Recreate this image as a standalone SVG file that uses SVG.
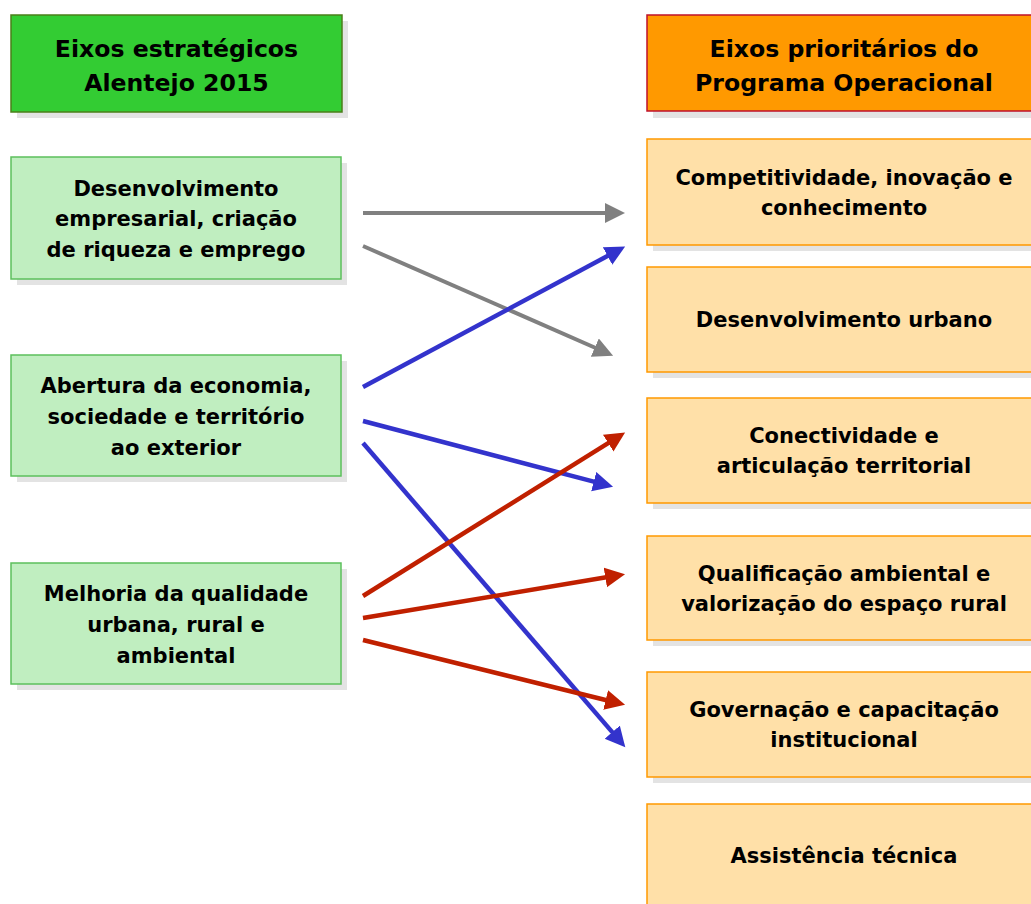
<svg xmlns="http://www.w3.org/2000/svg" width="1031" height="904" viewBox="0 0 1031 904">
<style>
text{font-family:"DejaVu Sans","Liberation Sans",sans-serif;font-weight:bold;fill:#000;text-anchor:middle}
.h{font-size:23.6px}
.t{font-size:21px}
.sh{fill:#E3E3E3}
.hl{fill:#33CC33;stroke:#4B7F1A;stroke-width:1.5}
.hr{fill:#FF9900;stroke:#C0102A;stroke-width:1.5}
.bl{fill:#C0EEC0;stroke:#5CC05C;stroke-width:1.5}
.br{fill:#FFE0A8;stroke:#FF9900;stroke-width:1.5}
.cg{stroke:#808080;stroke-width:4;fill:none}
.cb{stroke:#3333CC;stroke-width:4.5;fill:none}
.cr{stroke:#C02000;stroke-width:4.5;fill:none}
</style>
<defs>
<marker id="ag" markerUnits="userSpaceOnUse" markerWidth="22" markerHeight="22" refX="1" refY="10" orient="auto"><path d="M0,0 L20,10 L0,20 z" fill="#808080"/></marker>
<marker id="ab" markerUnits="userSpaceOnUse" markerWidth="22" markerHeight="22" refX="1" refY="10" orient="auto"><path d="M0,0 L20,10 L0,20 z" fill="#3333CC"/></marker>
<marker id="ar" markerUnits="userSpaceOnUse" markerWidth="22" markerHeight="22" refX="1" refY="10" orient="auto"><path d="M0,0 L20,10 L0,20 z" fill="#C02000"/></marker>
</defs>
<rect width="1031" height="904" fill="#fff"/>
<g id="hdr-left"><rect class="sh" x="17" y="21" width="331" height="97"/><rect class="hl" x="11" y="15" width="331" height="97"/>
<text class="h" x="176.5" y="57">Eixos estratégicos</text><text class="h" x="176.5" y="91">Alentejo 2015</text></g>
<g id="hdr-right"><rect class="sh" x="653" y="21" width="394" height="97"/><rect class="hr" x="647" y="15" width="394" height="96"/>
<text class="h" x="844" y="57">Eixos prioritários do</text><text class="h" x="844" y="91">Programa Operacional</text></g>
<g id="l1"><rect class="sh" x="17" y="163" width="330" height="122"/><rect class="bl" x="11" y="157" width="330" height="122"/>
<text class="t" x="176" y="196">Desenvolvimento</text><text class="t" x="176" y="226">empresarial, criação</text><text class="t" x="176" y="257">de riqueza e emprego</text></g>
<g id="l2"><rect class="sh" x="17" y="361" width="330" height="121"/><rect class="bl" x="11" y="355" width="330" height="121"/>
<text class="t" x="176" y="393">Abertura da economia,</text><text class="t" x="176" y="424">sociedade e território</text><text class="t" x="176" y="455">ao exterior</text></g>
<g id="l3"><rect class="sh" x="17" y="569" width="330" height="121"/><rect class="bl" x="11" y="563" width="330" height="121"/>
<text class="t" x="176" y="601">Melhoria da qualidade</text><text class="t" x="176" y="632">urbana, rural e</text><text class="t" x="176" y="663">ambiental</text></g>
<g id="r1"><rect class="sh" x="653" y="145" width="394" height="106"/><rect class="br" x="647" y="139" width="394" height="106"/>
<text class="t" x="844" y="185">Competitividade, inovação e</text><text class="t" x="844" y="215">conhecimento</text></g>
<g id="r2"><rect class="sh" x="653" y="273" width="394" height="105"/><rect class="br" x="647" y="267" width="394" height="105"/>
<text class="t" x="844" y="327">Desenvolvimento urbano</text></g>
<g id="r3"><rect class="sh" x="653" y="404" width="394" height="105"/><rect class="br" x="647" y="398" width="394" height="105"/>
<text class="t" x="844" y="443">Conectividade e</text><text class="t" x="844" y="473">articulação territorial</text></g>
<g id="r4"><rect class="sh" x="653" y="542" width="394" height="104"/><rect class="br" x="647" y="536" width="394" height="104"/>
<text class="t" x="844" y="581">Qualificação ambiental e</text><text class="t" x="844" y="611">valorização do espaço rural</text></g>
<g id="r5"><rect class="sh" x="653" y="678" width="394" height="105"/><rect class="br" x="647" y="672" width="394" height="105"/>
<text class="t" x="844" y="717">Governação e capacitação</text><text class="t" x="844" y="747">institucional</text></g>
<g id="r6"><rect class="sh" x="653" y="810" width="394" height="110"/><rect class="br" x="647" y="804" width="394" height="110"/>
<text class="t" x="844" y="863">Assistência técnica</text></g>
<g id="connectors">
<line class="cg" x1="363" y1="213" x2="606" y2="213" marker-end="url(#ag)"/>
<line class="cg" x1="363" y1="246" x2="595.7" y2="348" marker-end="url(#ag)"/>
<line class="cb" x1="363" y1="387" x2="608.4" y2="255.5" marker-end="url(#ab)"/>
<line class="cb" x1="363" y1="421" x2="594.7" y2="481.9" marker-end="url(#ab)"/>
<line class="cb" x1="363" y1="443" x2="612.9" y2="732.9" marker-end="url(#ab)"/>
<line class="cr" x1="363" y1="596" x2="609" y2="442.6" marker-end="url(#ar)"/>
<line class="cr" x1="363" y1="618" x2="606.3" y2="577.3" marker-end="url(#ar)"/>
<line class="cr" x1="363" y1="640" x2="606.6" y2="700.2" marker-end="url(#ar)"/>
</g>
</svg>
